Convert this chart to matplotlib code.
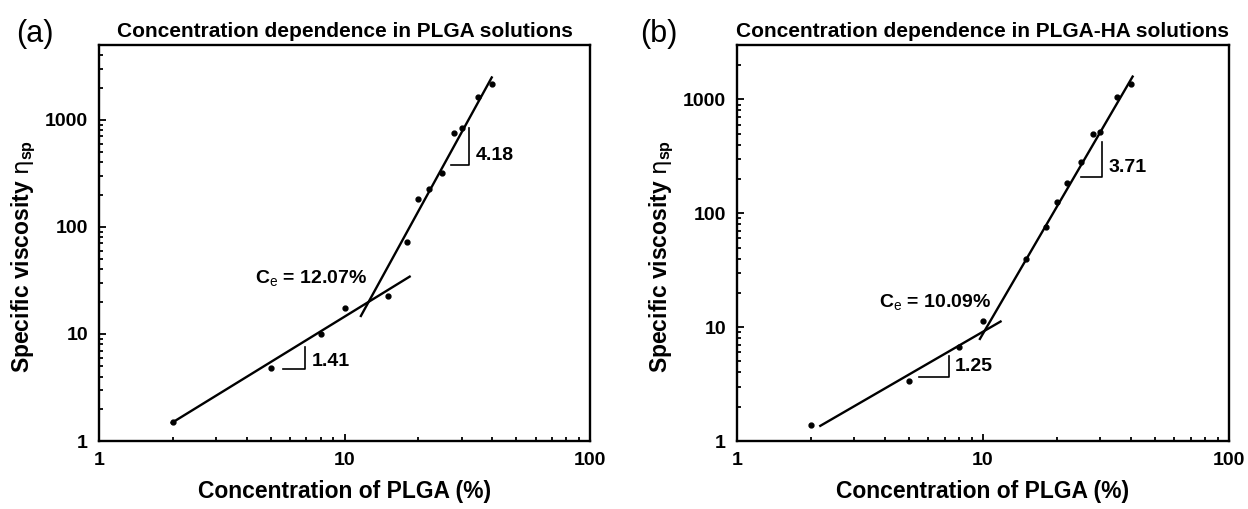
import matplotlib
matplotlib.use("Agg")
import matplotlib.pyplot as plt
from matplotlib.ticker import FixedLocator, FixedFormatter, LogLocator, NullFormatter
import numpy as np

plt.rcParams['font.family'] = ['Liberation Sans', 'DejaVu Sans']
plt.rcParams['mathtext.fontset'] = 'custom'
plt.rcParams['mathtext.rm'] = 'Liberation Sans'
plt.rcParams['mathtext.bf'] = 'Liberation Sans:bold'
plt.rcParams['mathtext.it'] = 'Liberation Sans:italic'
plt.rcParams['mathtext.sf'] = 'DejaVu Sans'

# ---------------- data ----------------
conc_a = [2, 5, 8, 10, 15, 18, 20, 22, 25, 28, 30, 35, 40]
visc_a = [1.50, 4.84, 10.0, 17.4, 22.6, 72.9, 183, 225, 322, 761, 836, 1630, 2155]

conc_b = [2, 5, 8, 10, 15, 18, 20, 22, 25, 28, 30, 35, 40]
visc_b = [1.38, 3.37, 6.70, 11.3, 39.8, 76.3, 125, 183, 279, 501, 521, 1056, 1373]

# fitted power laws: slope, x-range, anchor point (x, y)
slopes_a = [1.41, 4.18]
ranges_a = [(1.96, 18.6), (11.6, 40.0)]
anchors_a = [(6.04, 7.12), (21.6, 193.6)]
ce_a = 12.07

slopes_b = [1.25, 3.71]
ranges_b = [(2.16, 11.9), (9.66, 40.8)]
anchors_b = [(5.08, 3.91), (19.9, 112.7)]
ce_b = 10.09

titles = ["Concentration dependence in PLGA solutions",
          "Concentration dependence in PLGA-HA solutions"]
panel_labels = ["(a)", "(b)"]
ylims = [(1, 5000), (1, 3000)]
xticks = [1, 10, 100]
xticklabels = ["1", "10", "100"]
yticks = [1, 10, 100, 1000]
yticklabels = ["1", "10", "100", "1000"]

fig = plt.figure(figsize=(12.48, 5.09), dpi=100)
axA = fig.add_axes([99/1248, 68/509, 491/1248, 396/509])
axB = fig.add_axes([737/1248, 68/509, 492/1248, 396/509])

def fit_line(ax, slope, xr, anchor):
    xs = np.array(xr)
    ys = anchor[1] * (xs / anchor[0]) ** slope
    ax.plot(xs, ys, color='black', lw=1.7, solid_capstyle='butt')

def slope_mark(ax, xv, y0, y1, xh, label, lx, ly):
    ax.plot([xh, xv, xv], [y0, y0, y1], color='black', lw=1.2,
            transform=ax.transAxes)
    ax.text(lx, ly, label, transform=ax.transAxes, fontsize=14,
            fontweight='bold', ha='left', va='center')

def style(ax, ylim, title, plabel, lab_x):
    ax.set_xscale('log')
    ax.set_yscale('log')
    ax.set_xlim(1, 100)
    ax.set_ylim(*ylim)
    ax.xaxis.set_major_locator(FixedLocator(xticks))
    ax.xaxis.set_major_formatter(FixedFormatter(xticklabels))
    ax.yaxis.set_major_locator(FixedLocator(yticks))
    ax.yaxis.set_major_formatter(FixedFormatter(yticklabels))
    ax.xaxis.set_minor_locator(LogLocator(base=10, subs=np.arange(2, 10)))
    ax.yaxis.set_minor_locator(LogLocator(base=10, subs=np.arange(2, 10)))
    ax.xaxis.set_minor_formatter(NullFormatter())
    ax.yaxis.set_minor_formatter(NullFormatter())
    ax.tick_params(which='both', direction='in', top=False, right=False,
                   width=1.3)
    ax.tick_params(which='major', length=5, pad=8, labelsize=14)
    ax.tick_params(which='minor', length=3)
    for lbl in ax.get_xticklabels() + ax.get_yticklabels():
        lbl.set_fontweight('bold')
    for s in ax.spines.values():
        s.set_linewidth(1.7)
    ax.set_xlabel("Concentration of PLGA (%)", fontsize=16.5, fontweight='bold',
                  labelpad=8)
    ax.set_ylabel(r"Specific viscosity $\mathsf{\eta}_{\mathbf{sp}}$", fontsize=16.5,
                  fontweight='bold')
    ax.yaxis.set_label_coords(-0.124, 0.465)
    ax.set_title(title, fontsize=15, fontweight='bold', pad=6)
    fig.text(lab_x, 1 - 34/509, plabel, fontsize=22, ha='left', va='center')

# panel (a)
axA.plot(conc_a, visc_a, 'o', color='black', ms=3.5)
for s, r, a in zip(slopes_a, ranges_a, anchors_a):
    fit_line(axA, s, r, a)
slope_mark(axA, 0.4196, 0.181, 0.238, 0.375, f"{slopes_a[0]:.2f}", 0.433, 0.200)
slope_mark(axA, 0.754, 0.697, 0.790, 0.717, f"{slopes_a[1]:.2f}", 0.768, 0.722)
axA.text(0.318, 0.412, r"C$_\mathrm{e}$ = " + f"{ce_a:.2f}%", transform=axA.transAxes,
         fontsize=14, fontweight='bold', ha='left', va='center')
style(axA, ylims[0], titles[0], panel_labels[0], 16/1248)

# panel (b)
axB.plot(conc_b, visc_b, 'o', color='black', ms=3.5)
for s, r, a in zip(slopes_b, ranges_b, anchors_b):
    fit_line(axB, s, r, a)
slope_mark(axB, 0.4315, 0.162, 0.215, 0.3705, f"{slopes_b[0]:.2f}", 0.443, 0.188)
slope_mark(axB, 0.741, 0.667, 0.756, 0.6986, f"{slopes_b[1]:.2f}", 0.755, 0.691)
axB.text(0.289, 0.352, r"C$_\mathrm{e}$ = " + f"{ce_b:.2f}%", transform=axB.transAxes,
         fontsize=14, fontweight='bold', ha='left', va='center')
style(axB, ylims[1], titles[1], panel_labels[1], 640/1248)

fig.savefig("out.png", dpi=100)
